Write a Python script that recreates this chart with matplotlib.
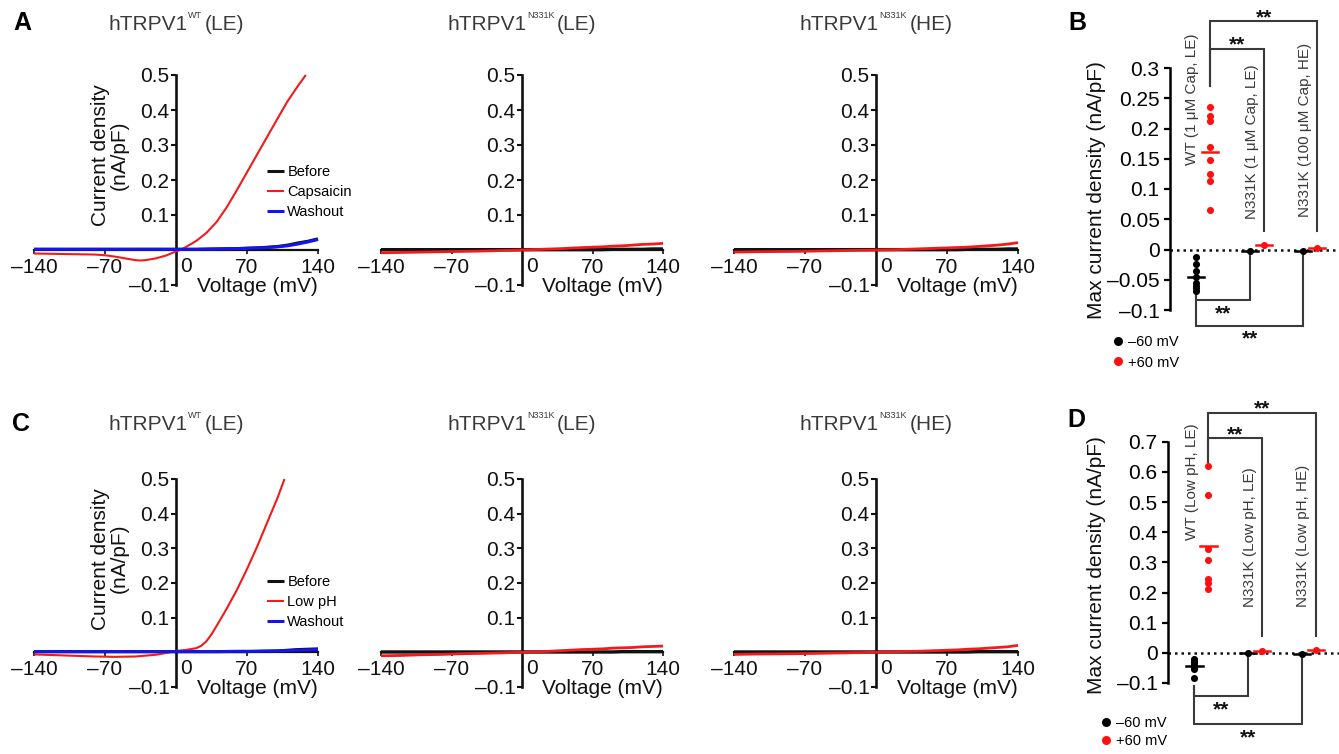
import matplotlib
matplotlib.use('Agg')
import matplotlib.pyplot as plt
from matplotlib.lines import Line2D
import numpy as np

W, H = 1339, 754
plt.rcParams['font.family'] = ['Liberation Sans', 'DejaVu Sans']
fig = plt.figure(figsize=(W / 100, H / 100), dpi=100)

RED = '#f21a1a'
BLUE = '#1414f0'
BLACK = '#111111'
GRAY = '#3a3a3a'

# ---------------- data: I-V traces (voltage mV, current density nA/pF) ----------------
v_full = [-140, -120, -100, -80, -60, -40, -20, 0, 20, 40, 60, 70, 80, 90, 100, 110, 120, 130, 140]

# A1: hTRPV1 WT (LE), capsaicin
v_a1_cap = [-140, -120, -100, -80, -70, -60, -50, -40, -35, -30, -20, -10, 0, 5, 10, 20, 30, 40, 50,
            60, 70, 80, 90, 100, 110, 120, 128]
i_a1_cap = [-0.010, -0.011, -0.012, -0.013, -0.015, -0.019, -0.024, -0.029, -0.030, -0.029, -0.024,
            -0.016, -0.004, 0.001, 0.009, 0.026, 0.049, 0.080, 0.122, 0.171, 0.222, 0.273, 0.324,
            0.375, 0.425, 0.468, 0.500]
i_a1_before = [0.002, 0.002, 0.002, 0.002, 0.002, 0.002, 0.002, 0.002, 0.002, 0.003, 0.004, 0.005,
               0.006, 0.008, 0.010, 0.014, 0.020, 0.025, 0.032]
i_a1_wash = [0.002, 0.002, 0.002, 0.002, 0.002, 0.002, 0.002, 0.002, 0.002, 0.003, 0.004, 0.005,
             0.006, 0.007, 0.009, 0.012, 0.017, 0.023, 0.030]

# A2: N331K (LE), capsaicin
i_a2_before = [0.001, 0.001, 0.001, 0.001, 0.001, 0.001, 0.001, 0.001, 0.001, 0.001, 0.001, 0.001,
               0.001, 0.002, 0.002, 0.002, 0.002, 0.003, 0.003]
i_a2_cap = [-0.008, -0.007, -0.006, -0.005, -0.004, -0.003, -0.0015, 0.0, 0.002, 0.004, 0.007, 0.008,
            0.009, 0.011, 0.012, 0.014, 0.016, 0.017, 0.019]

# A3: N331K (HE), capsaicin
i_a3_before = [0.001, 0.001, 0.001, 0.001, 0.001, 0.001, 0.001, 0.001, 0.001, 0.001, 0.001, 0.001,
               0.001, 0.002, 0.002, 0.002, 0.002, 0.003, 0.003]
i_a3_cap = [-0.006, -0.005, -0.0045, -0.004, -0.003, -0.002, -0.001, 0.0, 0.001, 0.003, 0.005, 0.006,
            0.007, 0.008, 0.010, 0.012, 0.014, 0.017, 0.021]

# C1: WT (LE), low pH
v_c1_ph = [-140, -120, -100, -80, -60, -40, -20, -10, 0, 10, 20, 25, 30, 35, 40, 50, 60, 70, 80, 90, 100, 107]
i_c1_ph = [-0.006, -0.008, -0.010, -0.012, -0.013, -0.012, -0.007, -0.002, 0.004, 0.007, 0.012, 0.019,
           0.032, 0.052, 0.076, 0.126, 0.180, 0.240, 0.305, 0.375, 0.445, 0.500]
i_c1_before = [0.002, 0.002, 0.002, 0.002, 0.002, 0.002, 0.002, 0.002, 0.002, 0.002, 0.002, 0.002,
               0.003, 0.003, 0.004, 0.006, 0.008, 0.009, 0.010]
i_c1_wash = [0.002, 0.002, 0.002, 0.002, 0.002, 0.002, 0.002, 0.002, 0.002, 0.002, 0.003, 0.003,
             0.003, 0.004, 0.004, 0.005, 0.006, 0.007, 0.008]

# C2: N331K (LE), low pH
i_c2_before = [0.001, 0.001, 0.001, 0.001, 0.001, 0.001, 0.001, 0.001, 0.001, 0.001, 0.001, 0.001,
               0.001, 0.001, 0.002, 0.002, 0.002, 0.002, 0.002]
i_c2_ph = [-0.010, -0.009, -0.007, -0.006, -0.004, -0.003, -0.0015, 0.0, 0.002, 0.005, 0.008, 0.009,
           0.010, 0.012, 0.013, 0.014, 0.016, 0.017, 0.018]

# C3: N331K (HE), low pH
i_c3_before = [0.001, 0.001, 0.001, 0.001, 0.001, 0.001, 0.001, 0.001, 0.001, 0.001, 0.001, 0.001,
               0.001, 0.001, 0.002, 0.002, 0.002, 0.002, 0.002]
i_c3_ph = [-0.006, -0.005, -0.0045, -0.004, -0.003, -0.002, -0.001, 0.0, 0.002, 0.003, 0.005, 0.006,
           0.007, 0.009, 0.010, 0.012, 0.014, 0.016, 0.020]

# ---------------- data: scatter panels ----------------
b_groups = ['WT (1 μM Cap, LE)', 'N331K (1 μM Cap, LE)', 'N331K (100 μM Cap, HE)']
b_neg60 = [[-0.012, -0.024, -0.035, -0.045, -0.055, -0.060, -0.064, -0.068], [-0.003], [-0.002]]
b_pos60 = [[0.236, 0.220, 0.212, 0.169, 0.148, 0.125, 0.114, 0.066], [0.008], [0.003]]

d_groups = ['WT (Low pH, LE)', 'N331K (Low pH, LE)', 'N331K (Low pH, HE)']
d_neg60 = [[-0.020, -0.030, -0.035, -0.040, -0.050, -0.055, -0.085], [-0.002], [-0.003]]
d_pos60 = [[0.620, 0.522, 0.345, 0.308, 0.244, 0.231, 0.211], [0.006], [0.008]]

iv_xticks = [-140, -70, 70, 140]
iv_xticklabels = ['–140', '–70', '70', '140']
iv_yticks = [-0.1, 0.1, 0.2, 0.3, 0.4, 0.5]
iv_yticklabels = ['–0.1', '0.1', '0.2', '0.3', '0.4', '0.5']

b_yticks = [-0.1, -0.05, 0, 0.05, 0.1, 0.15, 0.2, 0.25, 0.3]
b_yticklabels = ['–0.1', '–0.05', '0', '0.05', '0.1', '0.15', '0.2', '0.25', '0.3']
d_yticks = [-0.1, 0, 0.1, 0.2, 0.3, 0.4, 0.5, 0.6, 0.7]
d_yticklabels = ['–0.1', '0', '0.1', '0.2', '0.3', '0.4', '0.5', '0.6', '0.7']


def rect(l, t, r, b):
    return [l / W, 1 - b / H, (r - l) / W, (b - t) / H]


renderer = fig.canvas.get_renderer()


def sup_title(xc, yb, main, sup, tail, fs=15, sfs=6.5):
    t1 = fig.text(0, 0, main, fontsize=fs, color=GRAY, va='baseline', ha='left')
    t2 = fig.text(0, 0, sup, fontsize=sfs, color=GRAY, va='baseline', ha='left')
    t3 = fig.text(0, 0, tail, fontsize=fs, color=GRAY, va='baseline', ha='left')
    w1 = t1.get_window_extent(renderer).width
    w2 = t2.get_window_extent(renderer).width
    w3 = t3.get_window_extent(renderer).width
    gap = 3
    total = w1 + w2 + gap + w3
    x0 = xc - total / 2
    t1.set_position((x0 / W, 1 - yb / H))
    t2.set_position(((x0 + w1 + 0.5) / W, 1 - (yb - 11.5) / H))
    t3.set_position(((x0 + w1 + w2 + gap) / W, 1 - yb / H))


def draw_iv(box, traces, axis_x, title_sup, title_tail, title_yb, legend=None, ylabel=False):
    ax = fig.add_axes(rect(*box))
    for v, i, c, lw, lab, z in traces:
        ax.plot(v, i, color=c, lw=lw, label=lab, zorder=z, clip_on=False, solid_capstyle='butt')
    ax.set_xlim(-140, 140)
    ax.set_ylim(-0.1, 0.5)
    for s in ['top', 'right']:
        ax.spines[s].set_visible(False)
    ax.spines['left'].set_position(('data', 0))
    ax.spines['bottom'].set_position(('data', 0))
    ax.spines['left'].set_linewidth(1.9)
    ax.spines['bottom'].set_linewidth(1.6)
    ax.spines['left'].set_color(BLACK)
    ax.spines['bottom'].set_color(BLACK)
    ax.spines['left'].set_zorder(1)
    ax.spines['bottom'].set_zorder(1)
    ax.set_xticks(iv_xticks)
    ax.set_xticklabels(iv_xticklabels)
    ax.set_yticks(iv_yticks)
    ax.set_yticklabels(iv_yticklabels)
    ax.tick_params(axis='x', length=3, width=1.2, pad=2.5, labelsize=15, direction='out', colors=BLACK)
    ax.tick_params(axis='y', length=3.5, width=1.5, pad=1.2, labelsize=15, direction='out', colors=BLACK)
    ax.patch.set_alpha(0)
    ax.annotate('0', xy=(0, 0), xytext=(4, -7), textcoords='offset pixels', ha='left', va='top',
                fontsize=15, color=BLACK)
    ax.annotate('Voltage (mV)', xy=(80, -0.1), xytext=(0, -2), textcoords='offset pixels',
                ha='center', va='center', fontsize=15, color=BLACK, annotation_clip=False)
    if ylabel:
        ax.text(-65, 0.27, 'Current density\n(nA/pF)', rotation=90, ha='center', va='center',
                fontsize=15, linespacing=1.0, color=BLACK)
    if legend is not None:
        lx, ly = legend
        ax.legend(loc='upper left', bbox_to_anchor=(lx / W, 1 - ly / H), bbox_transform=fig.transFigure,
                  frameon=False, fontsize=10.5, handlelength=1.15, handletextpad=0.25, labelspacing=0.42,
                  borderpad=0, borderaxespad=0)
    sup_title(axis_x, title_yb, 'hTRPV1', title_sup, title_tail)
    return ax


# Row A
draw_iv((34, 75, 318, 285), [
    (v_full, i_a1_before, BLACK, 2.2, 'Before', 3),
    (v_a1_cap, i_a1_cap, RED, 1.5, 'Capsaicin', 4),
    (v_full, i_a1_wash, BLUE, 2.2, 'Washout', 5)],
    176, 'WT', '(LE)', 30, legend=(267, 165), ylabel=True)
draw_iv((381, 75, 663, 285), [
    (v_full, i_a2_before, BLACK, 2.4, None, 3),
    (v_full, i_a2_cap, RED, 2.0, None, 4)],
    522, 'N331K', '(LE)', 30)
draw_iv((734, 75, 1018, 285), [
    (v_full, i_a3_before, BLACK, 2.4, None, 3),
    (v_full, i_a3_cap, RED, 2.0, None, 4)],
    876, 'N331K', '(HE)', 30)

# Row C
draw_iv((34, 479, 318, 687), [
    (v_full, i_c1_before, BLACK, 2.2, 'Before', 3),
    (v_c1_ph, i_c1_ph, RED, 1.5, 'Low pH', 4),
    (v_full, i_c1_wash, BLUE, 2.2, 'Washout', 5)],
    176, 'WT', '(LE)', 430, legend=(267, 575), ylabel=True)
draw_iv((381, 479, 663, 687), [
    (v_full, i_c2_before, BLACK, 2.4, None, 3),
    (v_full, i_c2_ph, RED, 2.0, None, 4)],
    522, 'N331K', '(LE)', 430)
draw_iv((734, 479, 1018, 687), [
    (v_full, i_c3_before, BLACK, 2.4, None, 3),
    (v_full, i_c3_ph, RED, 2.0, None, 4)],
    876, 'N331K', '(HE)', 430)


def draw_scatter(box, xlim, ylim, yticks, yticklabels, groups, neg, pos, label_pos, brackets,
                 ylabel_xy, legend_xy, legend_spacing):
    ax = fig.add_axes(rect(*box))
    ax.set_xlim(*xlim)
    ax.set_ylim(*ylim)
    off = 0.13
    hw = 0.15
    for gi in range(len(groups)):
        xn = gi - off
        xp = gi + off
        ax.scatter([xn] * len(neg[gi]), neg[gi], s=26, color='black', zorder=5, clip_on=False, linewidths=0)
        ax.scatter([xp] * len(pos[gi]), pos[gi], s=26, color='#ff1010', zorder=5, clip_on=False, linewidths=0)
        ax.plot([xn - hw, xn + hw], [np.mean(neg[gi])] * 2, color='black', lw=1.8, zorder=6, clip_on=False)
        ax.plot([xp - hw, xp + hw], [np.mean(pos[gi])] * 2, color='#ff1010', lw=1.8, zorder=6, clip_on=False)
        lx, ly = label_pos[gi]
        ax.text(gi + lx, ly, groups[gi], rotation=90, ha='center', va='bottom', fontsize=11, color=GRAY)
    ax.axhline(0, color=BLACK, ls=(0, (1, 1.6)), lw=1.8, zorder=1)
    for s in ['top', 'right', 'bottom']:
        ax.spines[s].set_visible(False)
    ax.spines['left'].set_linewidth(1.8)
    ax.set_xticks([])
    ax.set_yticks(yticks)
    ax.set_yticklabels(yticklabels)
    ax.tick_params(axis='y', length=4.5, width=1.6, pad=3, labelsize=15)
    ax.patch.set_alpha(0)
    for (xa, ya_end, xb, yb_end, ybar, star_off) in brackets:
        ax.plot([xa, xa, xb, xb], [ya_end, ybar, ybar, yb_end], color='#3a3a3a', lw=1.5, clip_on=False,
                solid_joinstyle='miter')
        ax.annotate('**', xy=((xa + xb) / 2, ybar), xytext=(0, star_off), textcoords='offset pixels',
                    ha='center', va='baseline', fontsize=15, fontweight='bold', color=BLACK,
                    annotation_clip=False)
    fig.text(ylabel_xy[0] / W, 1 - ylabel_xy[1] / H, 'Max current density (nA/pF)', rotation=90,
             ha='center', va='center', fontsize=15, color=BLACK)
    handles = [Line2D([], [], marker='o', ls='', color='black', markersize=6.5, markeredgewidth=0),
               Line2D([], [], marker='o', ls='', color='#ff1010', markersize=6.5, markeredgewidth=0)]
    ax.legend(handles, ['–60 mV', '+60 mV'], loc='upper left',
              bbox_to_anchor=(legend_xy[0] / W, 1 - legend_xy[1] / H), bbox_transform=fig.transFigure,
              frameon=False, fontsize=10.5, handlelength=0.6, handletextpad=0.35,
              labelspacing=legend_spacing, borderpad=0, borderaxespad=0)
    return ax


# brackets: (x_a, y_a_end, x_b, y_b_end, y_bar, star offset px)
draw_scatter((1170, 68, 1339, 310), (-0.62, 2.54), (-0.1, 0.3), b_yticks, b_yticklabels,
             b_groups, b_neg60, b_pos60,
             [(-0.2, 0.139), (-0.09, 0.051), (-0.09, 0.053)],
             [(0.13, 0.271, 2.13, 0.031, 0.377, -2),
              (0.13, 0.271, 1.13, 0.031, 0.332, -2),
              (-0.13, -0.068, 0.87, -0.010, -0.084, -19),
              (-0.13, -0.073, 1.87, -0.010, -0.126, -19)],
             (1097, 190), (1114, 335), 0.45)

draw_scatter((1168, 441.7, 1339, 683), (-0.62, 2.55), (-0.1, 0.7), d_yticks, d_yticklabels,
             d_groups, d_neg60, d_pos60,
             [(-0.18, 0.374), (-0.1, 0.153), (-0.11, 0.153)],
             [(0.13, 0.632, 2.13, 0.055, 0.796, -2),
              (0.13, 0.632, 1.13, 0.055, 0.711, -2),
              (-0.13, -0.11, 0.87, -0.011, -0.143, -19),
              (-0.13, -0.11, 1.87, -0.013, -0.237, -19)],
             (1097, 565), (1102, 716), 0.25)

# panel letters
for letter, x, yb in [('A', 13, 30), ('C', 12, 431), ('B', 1068, 30), ('D', 1067, 427)]:
    fig.text(x / W, 1 - yb / H, letter, fontsize=18, fontweight='bold', ha='left', va='baseline',
             color='black')

fig.savefig('out.png', dpi=100)
